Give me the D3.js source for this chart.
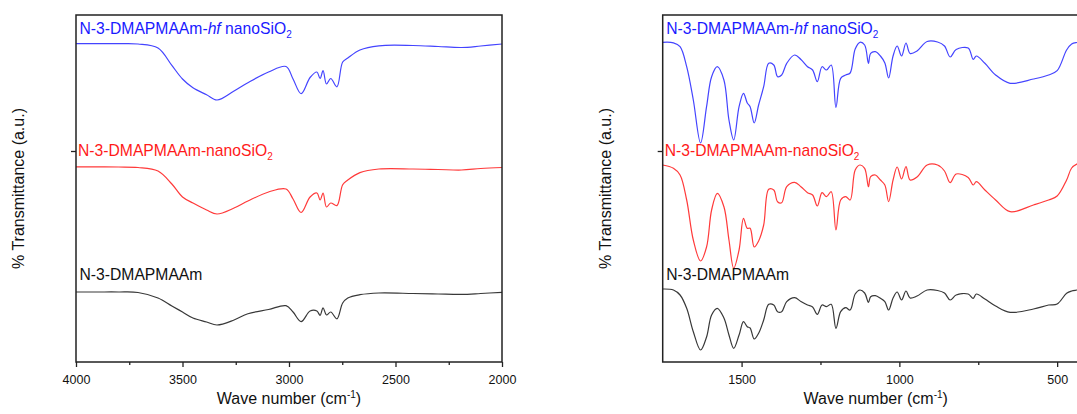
<!DOCTYPE html>
<html>
<head>
<meta charset="utf-8">
<script src="https://cdn.jsdelivr.net/npm/d3@7"></script>
<style>
  body { margin: 0; background: #fff; }
  svg { display: block; font-family: "Liberation Sans", Arial, sans-serif; }
  .tick text { font-size: 12.5px; fill: #111; }
  .tick line { stroke: #222; stroke-width: 1.3; }
</style>
</head>
<body>
<div id="chart"></div>
<script>
// FTIR spectra, two wavenumber windows. Transmittance in arbitrary units (curves are offset).

// left window: 4000 - 2000 cm-1
var leftWave = [4000, 3900, 3800, 3709, 3615, 3550, 3500, 3451, 3387, 3338, 3258, 3193, 3096, 3014, 2981, 2943,
                2901, 2869, 2854, 2840, 2824, 2804, 2775, 2748, 2724, 2667, 2578, 2418, 2300, 2190, 2100, 2000];
var leftHf    = [318.3, 318.3, 318.3, 318, 314, 296.6, 283, 274.2, 267.3, 262, 271, 279.3, 290, 295.5, 283, 268.3,
                 284.5, 290, 283.5, 291.4, 278, 283.5, 275.2, 300, 304, 312, 316.2, 316.5, 315.5, 314.5, 316, 318];
var leftNano  = [195.2, 195.2, 195, 194.5, 191, 178, 165, 159, 152, 148, 154, 161, 170, 173, 163, 149.5,
                 165, 169, 162, 169, 155, 159, 156.4, 177.3, 182, 189.4, 193, 193, 192.5, 192, 193.5, 194.5];
var leftMono  = [70, 70, 70, 69.5, 64, 56, 50, 44, 40, 37, 42, 48.3, 52.5, 56.3, 50, 40.4,
                 51, 51, 46.6, 54.2, 47, 50, 43.2, 59, 64, 67.3, 69, 68.5, 68, 67.6, 68.5, 69.7];

// right window: 1750 - 400 cm-1
var rightWave = [1750, 1716, 1695, 1674, 1653, 1630, 1611, 1595, 1577, 1556, 1540, 1525, 1508, 1494, 1482, 1473,
                 1460, 1446, 1430, 1414, 1398, 1386, 1373, 1357, 1332, 1312, 1291, 1275, 1260, 1245, 1231, 1216,
                 1201, 1186, 1170, 1156, 1140, 1125, 1110, 1098, 1091, 1076, 1060, 1046, 1034, 1020, 1007, 993,
                 979, 966, 944, 912, 879, 857, 839, 820, 782, 766, 756, 729, 695, 649, 575, 527,
                 500, 470, 454, 437, 420, 400];
var rightHf   = [319.7, 319.2, 315.3, 295.3, 262, 219, 255.3, 285.3, 295.3, 282, 242, 222, 255.3, 268.7, 259, 255.3,
                 239, 257, 275.3, 298.7, 297, 285.3, 287, 298.7, 307, 302.5, 295.3, 292, 280.3, 295.3, 292, 297,
                 254.7, 283.7, 287, 289, 313, 319.7, 317, 298.7, 308.7, 310.3, 306, 299, 284, 306, 316, 306,
                 319, 308.5, 311, 320.5, 320, 316, 305, 312.5, 314, 302.7, 306, 298.7, 287, 278.7, 283, 287,
                 291.3, 312, 318, 319.5, 320, 320.5];
var rightNano = [197, 193.7, 187, 162, 122, 101, 115, 152, 168.7, 155.3, 122, 93.7, 112, 143.7, 133.7, 133.7,
                 115, 121, 137, 172.7, 172, 160.3, 159.3, 175.3, 179.7, 175.3, 169.3, 167, 156, 169.3, 165.3, 170.3,
                 132, 162, 165.3, 162, 192, 197, 193.7, 175.3, 185.3, 187, 182, 177, 160.3, 182, 195, 183,
                 195.4, 182, 185, 197, 197, 191, 179.3, 188, 184.5, 177, 180.3, 172, 162, 150.3, 157, 162,
                 166, 182, 194, 198, 200, 201];
var rightMono = [73, 72, 67, 53.7, 30.3, 12, 25, 47, 53.7, 44, 27, 13.7, 27, 40.3, 35.3, 34,
                 23, 28.7, 42, 57.7, 57, 50.3, 50.3, 60.3, 64.3, 60.5, 57, 55, 47.7, 57, 55.3, 57.7,
                 33.7, 50.3, 54.3, 52, 68, 72, 69, 59.7, 65.3, 66.3, 63.7, 60.3, 52, 64, 70, 62,
                 71, 64, 66, 72, 71.5, 69, 62, 67, 68, 63.7, 68, 63, 56, 49.7, 53, 57,
                 58, 68.7, 71, 72, 73, 74];

var leftMajor = [4000, 3500, 3000, 2500, 2000];
var leftMinor = [3750, 3250, 2750, 2250];
var rightMajor = [1500, 1000, 500];
var rightMinor = [1250, 750];
var yTickVals = [211];

var W = 1077, H = 414;
var plotW = 426, plotH = 347, marginTop = 15;

var svg = d3.select("#chart").append("svg")
    .attr("width", W)
    .attr("height", H);

svg.append("rect").attr("width", W).attr("height", H).attr("fill", "#fff");

var y = d3.scaleLinear().domain([0, 347]).range([plotH, 0]);

// one panel = frame, axes, three spectra and their names
function panel(left, domain, wave, series, major, minor) {
  var g = svg.append("g").attr("transform", "translate(" + left + "," + marginTop + ")");

  var x = d3.scaleLinear().domain(domain).range([0, plotW]);

  var line = d3.line()
    .x(function(d) { return x(d[0]); })
    .y(function(d) { return y(d[1]); })
    .curve(d3.curveCatmullRom.alpha(0.5));

  series.forEach(function(s) {
    g.append("path")
      .datum(wave.map(function(w, i) { return [w, s.values[i]]; }))
      .attr("fill", "none")
      .attr("stroke", s.color)
      .attr("stroke-width", 1.2)
      .attr("d", line);
  });

  // major ticks with labels
  var xa = g.append("g")
    .attr("transform", "translate(0," + plotH + ")")
    .call(d3.axisBottom(x).tickValues(major).tickSize(5).tickSizeOuter(0).tickPadding(8).tickFormat(d3.format("d")));
  xa.select(".domain").remove();

  // minor ticks
  var xm = g.append("g")
    .attr("transform", "translate(0," + plotH + ")")
    .call(d3.axisBottom(x).tickValues(minor).tickSize(3).tickSizeOuter(0).tickFormat(""));
  xm.select(".domain").remove();

  var ya = g.append("g")
    .call(d3.axisLeft(y).tickValues(yTickVals).tickSize(5).tickFormat(""));
  ya.select(".domain").remove();

  g.append("rect")
    .attr("width", plotW)
    .attr("height", plotH)
    .attr("fill", "none")
    .attr("stroke", "#222")
    .attr("stroke-width", 1.5);

  // series names
  series.forEach(function(s) {
    var t = g.append("text")
      .attr("x", s.dx)
      .attr("y", s.ty)
      .attr("fill", s.textColor)
      .style("font-size", "15.7px");
    s.parts.forEach(function(p) {
      var ts = t.append("tspan").text(p.t);
      if (p.italic) ts.style("font-style", "italic");
      if (p.sub) ts.attr("baseline-shift", "-4").style("font-size", "10px");
    });
  });

  // axis titles
  var xt = g.append("text")
    .attr("x", plotW / 2)
    .attr("y", 389)
    .attr("text-anchor", "middle")
    .attr("fill", "#111")
    .style("font-size", "16px");
  xt.append("tspan").text("Wave number (cm");
  xt.append("tspan").text("-1").attr("baseline-shift", "6").style("font-size", "10px");
  xt.append("tspan").text(")");

  g.append("text")
    .attr("transform", "translate(-52," + (plotH / 2) + ") rotate(-90)")
    .attr("text-anchor", "middle")
    .attr("fill", "#111")
    .style("font-size", "16px")
    .text("% Transmittance (a.u.)");
}

function names(hf, nano, mono) {
  return [
    { values: hf, color: "#4444ff", textColor: "#1a1aff", dx: 3.5, ty: 19,
      parts: [{ t: "N-3-DMAPMAAm-" }, { t: "hf", italic: true }, { t: " nanoSiO" }, { t: "2", sub: true }] },
    { values: nano, color: "#ff3a3a", textColor: "#ff1a1a", dx: 2, ty: 141,
      parts: [{ t: "N-3-DMAPMAAm-nanoSiO" }, { t: "2", sub: true }] },
    { values: mono, color: "#383838", textColor: "#111", dx: 3.5, ty: 265,
      parts: [{ t: "N-3-DMAPMAAm" }] }
  ];
}

panel(76, [4000, 2000], leftWave, names(leftHf, leftNano, leftMono), leftMajor, leftMinor);
panel(662.7, [1750, 400], rightWave, names(rightHf, rightNano, rightMono), rightMajor, rightMinor);
</script>
</body>
</html>
